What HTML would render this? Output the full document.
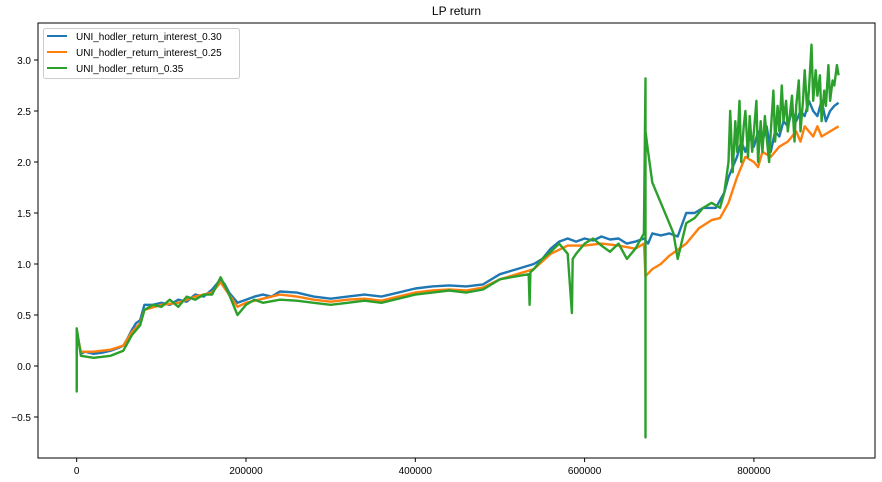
<!DOCTYPE html>
<html><head><meta charset="utf-8"><style>
body{margin:0;background:#fff;}
svg{display:block;font-family:"Liberation Sans","DejaVu Sans",sans-serif;}
</style></head><body>
<svg id="chart" width="882" height="482"></svg>
<script>
// x in thousands
const blueX=[0,0,0,5,10,20,30,40,50,55,60,65,70,75,80,90,100,110,120,130,140,150,160,170,175,180,190,200,210,220,230,240,260,280,300,320,340,360,380,400,420,440,460,480,500,520,540,550,560,570,580,590,600,610,620,630,640,650,660,670,675,680,690,700,710,720,730,740,755,765,770,775,780,785,790,795,800,805,810,815,820,825,830,835,840,845,850,855,860,865,870,875,880,885,890,895,900];
const blueY=[0.1,-0.22,0.35,0.12,0.14,0.12,0.13,0.15,0.18,0.2,0.27,0.35,0.42,0.45,0.6,0.6,0.62,0.6,0.65,0.63,0.7,0.68,0.75,0.85,0.8,0.72,0.62,0.65,0.68,0.7,0.68,0.73,0.72,0.68,0.66,0.68,0.7,0.68,0.72,0.76,0.78,0.79,0.78,0.8,0.9,0.95,1.0,1.05,1.15,1.22,1.25,1.22,1.25,1.23,1.27,1.24,1.25,1.2,1.22,1.25,1.2,1.3,1.28,1.3,1.27,1.5,1.5,1.55,1.55,1.7,1.85,1.95,2.05,2.2,2.1,2.25,2.15,2.3,2.2,2.35,2.1,2.3,2.25,2.4,2.35,2.5,2.4,2.5,2.45,2.6,2.5,2.45,2.6,2.4,2.5,2.55,2.58];
const orangeX=[0,0,0,5,20,40,55,65,75,80,100,120,140,160,170,180,190,200,220,240,260,280,300,320,340,360,380,400,420,440,460,480,500,520,540,560,580,600,620,640,660,670,672,680,690,700,720,735,750,760,770,780,785,790,800,805,810,820,830,840,850,855,860,870,875,880,890,900];
const orangeY=[0.1,-0.2,0.32,0.14,0.14,0.16,0.2,0.33,0.42,0.55,0.6,0.62,0.68,0.72,0.82,0.7,0.58,0.62,0.66,0.7,0.68,0.65,0.63,0.65,0.66,0.64,0.68,0.72,0.74,0.75,0.74,0.77,0.85,0.9,0.95,1.1,1.18,1.18,1.2,1.18,1.15,1.2,0.88,0.95,1.0,1.08,1.2,1.35,1.43,1.45,1.6,1.85,1.95,2.05,2.0,1.95,2.1,2.05,2.15,2.2,2.3,2.2,2.35,2.25,2.35,2.25,2.3,2.35];
const greenX=[0,0,0,5,20,40,55,65,75,80,90,100,110,120,130,140,150,160,170,180,185,190,200,210,220,240,260,280,300,320,340,360,380,400,420,440,460,480,500,520,534,535,536,540,550,560,570,580,585,586,590,600,610,620,630,640,650,660,670,672,672,672,675,680,690,700,705,710,720,730,740,750,760,765,770,772,775,778,780,783,785,788,790,793,795,798,800,803,805,808,810,813,815,818,820,823,825,828,830,833,835,838,840,843,845,848,850,853,855,858,860,863,865,868,870,873,875,878,880,883,885,888,890,893,895,898,900];
const greenY=[0.1,-0.25,0.37,0.1,0.08,0.1,0.15,0.3,0.4,0.55,0.6,0.58,0.65,0.58,0.68,0.65,0.7,0.7,0.87,0.7,0.6,0.5,0.6,0.65,0.62,0.65,0.64,0.62,0.6,0.62,0.64,0.62,0.66,0.7,0.72,0.74,0.72,0.75,0.85,0.88,0.9,0.6,0.92,0.95,1.05,1.12,1.2,1.1,0.52,1.05,1.1,1.2,1.25,1.18,1.12,1.2,1.05,1.15,1.3,2.82,-0.7,2.3,2.1,1.8,1.6,1.4,1.3,1.05,1.4,1.45,1.55,1.6,1.55,1.7,2.0,2.5,1.9,2.4,2.1,2.6,2.0,2.35,2.5,2.05,2.45,2.1,2.3,2.6,2.0,2.4,2.1,2.45,2.25,2.0,2.3,2.7,2.2,2.55,2.3,2.75,2.4,2.6,2.3,2.5,2.65,2.2,2.55,2.8,2.3,2.6,2.9,2.5,2.7,3.15,2.6,2.9,2.65,2.85,2.4,2.7,2.55,2.95,2.6,2.8,2.75,2.95,2.85];
const yTicks=[-0.5,0.0,0.5,1.0,1.5,2.0,2.5,3.0];
const xTicks=[0,200000,400000,600000,800000];
const seriesNames=["UNI_hodler_return_interest_0.30","UNI_hodler_return_interest_0.25","UNI_hodler_return_0.35"];
const colors=["#1f77b4","#ff7f0e","#2ca02c"];

const L=38,R=875,T=23,B=458;
const xs=v=>76.7+v*(169.3/200000);
const ys=v=>366-v*102;
const NS="http://www.w3.org/2000/svg";
const svg=document.getElementById('chart');
function mk(t,a){const e=document.createElementNS(NS,t);for(const k in a)e.setAttribute(k,a[k]);return e;}

const title=mk('text',{x:(L+R)/2,y:15,'text-anchor':'middle','font-size':12});
title.textContent='LP return';


svg.appendChild(title);

const plot=mk('g',{});


svg.appendChild(plot);
const data=[[blueX,blueY],[orangeX,orangeY],[greenX,greenY]];
data.forEach((d,i)=>{
  const pts=d[0].map((x,j)=>xs(x*1000).toFixed(1)+','+ys(d[1][j]).toFixed(1)).join(' ');
  const pl=mk('polyline',{points:pts,fill:'none',stroke:colors[i],'stroke-width':2.4,'stroke-linejoin':'round'});
  
  
  plot.appendChild(pl);
});

const frame=mk('rect',{x:L,y:T,width:R-L,height:B-T,fill:'none',stroke:'#000','stroke-width':1});


svg.appendChild(frame);

yTicks.forEach(v=>{
  const y=ys(v);
  const t=mk('line',{x1:L-4,x2:L,y1:y,y2:y,stroke:'#000'});
  
  
  svg.appendChild(t);
  const l=mk('text',{x:L-7,y:y+4,'text-anchor':'end','font-size':10});
  l.textContent=(v<0?'\u2212':'')+Math.abs(v).toFixed(1);
  
  
  svg.appendChild(l);
});
xTicks.forEach(v=>{
  const x=xs(v);
  const t=mk('line',{x1:x,x2:x,y1:B,y2:B+4,stroke:'#000'});
  
  
  svg.appendChild(t);
  const l=mk('text',{x:x,y:B+16,'text-anchor':'middle','font-size':10});
  l.textContent=String(v);
  
  
  svg.appendChild(l);
});

const lg=mk('g',{});


svg.appendChild(lg);
lg.appendChild(mk('rect',{x:43.5,y:28.5,width:196,height:50,rx:2,fill:'#fff',stroke:'#ccc'}));
seriesNames.forEach((n,i)=>{
  const y=36+i*16;
  const ln=mk('line',{x1:47,x2:67,y1:y,y2:y,stroke:colors[i],'stroke-width':2});
  
  
  lg.appendChild(ln);
  const tx=mk('text',{x:76,y:y+4,'font-size':10});
  tx.textContent=n;
  
  
  lg.appendChild(tx);
});
</script>
</body></html>
